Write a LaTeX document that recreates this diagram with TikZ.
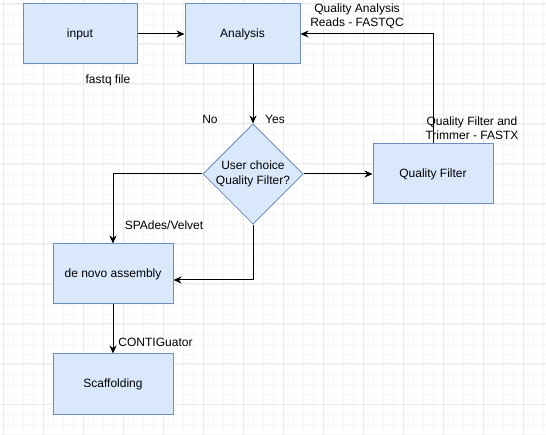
\documentclass[tikz,border=0pt]{standalone}
\usepackage{fontspec}
\setmainfont{Liberation Sans}
\usetikzlibrary{shapes.geometric,arrows.meta}
\definecolor{boxfill}{HTML}{DAE8FC}
\definecolor{boxline}{HTML}{6C8EBF}
\definecolor{gridminor}{HTML}{F7F7F7}
\definecolor{gridmajor}{HTML}{EBEBEB}
\tikzset{
  box/.style={draw=boxline, fill=boxfill, line width=1pt, minimum height=60pt, inner sep=0pt, font=\fontsize{12}{14}\selectfont},
  decision/.style={diamond, draw=boxline, fill=boxfill, line width=0.8pt, minimum width=100pt, minimum height=100pt, aspect=1, inner sep=0pt, align=center, font=\fontsize{12}{15}\selectfont},
  lbl/.style={inner sep=0pt, align=center, font=\fontsize{12}{14}\selectfont},
  conn/.style={line width=1pt, -{Stealth[length=8pt,width=7pt,inset=2.5pt]}},
  plain/.style={line width=1pt}
}
\begin{document}
\begin{tikzpicture}[x=1pt,y=-1pt]
\useasboundingbox (0,0) rectangle (546,435);
\fill[white] (0,0) rectangle (546,435);
\foreach \x in {3,13,...,543} \draw[gridminor, line width=0.8pt] (\x,0) -- (\x,435);
\foreach \y in {4,14,...,434} \draw[gridminor, line width=0.8pt] (0,\y) -- (546,\y);
\foreach \x in {3,43,...,543} \draw[gridmajor, line width=1pt] (\x,0) -- (\x,435);
\foreach \y in {4,44,...,434} \draw[gridmajor, line width=1pt] (0,\y) -- (546,\y);

\node[box, minimum width=114pt] (input) at (80,34) {input};
\node[box, minimum width=115pt] (analysis) at (242.5,34) {Analysis};
\node[decision] (dia) at (253,174) {User choice\\Quality Filter?};
\node[box, minimum width=120pt] (qf) at (433,174) {Quality Filter};
\node[box, minimum width=120pt] (denovo) at (113,274) {de novo assembly};
\node[box, minimum width=120pt] (scaff) at (113,384) {Scaffolding};

\node[lbl] (lfastq) at (108,80) {fastq file};
\node[lbl] (lno) at (210,119) {No};
\node[lbl] (lyes) at (275,119) {Yes};
\node[lbl] (lqa) at (357,16) {Quality Analysis\\Reads - FASTQC};
\node[lbl] (lqf) at (472,128) {Quality Filter and\\Trimmer - FASTX};
\node[lbl] (lspades) at (164,225) {SPAdes/Velvet};
\node[lbl] (lcontig) at (155.5,342) {CONTIGuator};

\draw[conn] (input) -- (analysis);
\draw[conn] (analysis.south -| dia.north) -- (dia.north);
\draw[conn] (dia.east) -- (qf.west);
\draw[conn] (qf.north) |- (analysis.east);
\draw[conn] (dia.west) -| (denovo.north);
\draw[conn] (dia.south) |- ([yshift=-6pt]denovo.east);
\draw[conn] (denovo) -- (scaff);
\end{tikzpicture}
\end{document}
